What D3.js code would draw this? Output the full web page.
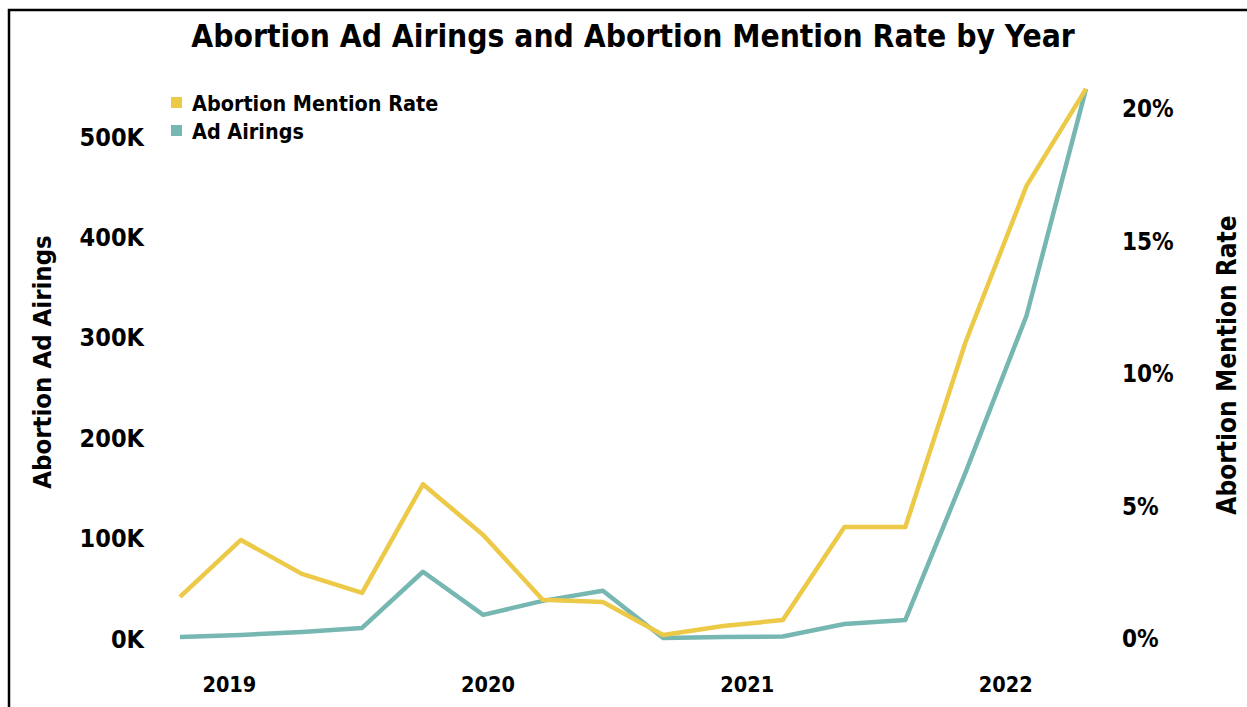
<!DOCTYPE html>
<html lang="en">
<head>
    <meta charset="UTF-8">
    <script src="https://d3js.org/d3.v7.min.js"></script>
    <title>Abortion Ad Airings</title>
    <style>
        body { margin: 0; background: #fff; }
        text { font-family: "DejaVu Sans Condensed", "DejaVu Sans", sans-serif; font-weight: bold; fill: #000; }
    </style>
</head>
<body>
<div id="chart"></div>
<script>
    // periods (one point each)
    const periods = ["2018-10-24", "2019-01-18", "2019-04-14", "2019-07-08",
                     "2019-10-02", "2019-12-26", "2020-03-19", "2020-06-12",
                     "2020-09-05", "2020-11-29", "2021-02-21", "2021-05-19",
                     "2021-08-13", "2021-11-06", "2022-01-31", "2022-04-25"]

    // abortion ad airings
    const airings = [1000, 3000, 6000, 10000, 66000, 23000, 37000, 47000,
                     0, 1000, 1500, 14000, 18000, 165000, 321000, 547000]

    // abortion mention rate (%)
    const mentionRate = [1.55, 3.70, 2.42, 1.70, 5.80, 3.89, 1.44, 1.36,
                         0.11, 0.45, 0.68, 4.19, 4.19, 11.17, 17.06, 20.72]

    const leftTicks = [0, 100000, 200000, 300000, 400000, 500000]
    const rightTicks = [0, 5, 10, 15, 20]

    const width = 1247
    const height = 707

    const svg = d3.select("#chart")
        .append("svg")
        .attr("width", width)
        .attr("height", height)

    // frame (only the top and left edges are in view)
    svg.append("path")
        .attr("d", `M9,${height} L9,10 L${width},10`)
        .attr("fill", "none")
        .attr("stroke", "#000")
        .attr("stroke-width", 2.5)

    const parse = d3.timeParse("%Y-%m-%d")
    const dates = periods.map(parse)

    const x = d3.scaleTime()
        .domain(d3.extent(dates))
        .range([180, 1086])

    const yLeft = d3.scaleLinear()
        .domain([0, 500000])
        .range([638, 136])

    const yRight = d3.scaleLinear()
        .domain([0, 20])
        .range([638, 108])

    // title
    svg.append("text")
        .attr("x", 633)
        .attr("y", 47)
        .attr("text-anchor", "middle")
        .style("font-size", "31.5px")
        .text("Abortion Ad Airings and Abortion Mention Rate by Year")

    // axes
    const xAxis = svg.append("g")
        .attr("transform", "translate(0,684)")
        .call(d3.axisBottom(x).ticks(d3.timeYear.every(1)).tickFormat(d3.timeFormat("%Y")).tickSize(0).tickPadding(0))
    xAxis.selectAll("text")
        .attr("dy", "0.35em")
        .style("font-size", "21.5px")

    const leftAxis = svg.append("g")
        .attr("transform", "translate(144,0)")
        .call(d3.axisLeft(yLeft).tickValues(leftTicks).tickFormat(d => d / 1000 + "K").tickSize(0).tickPadding(0))
    leftAxis.selectAll("text")
        .attr("dy", "0.36em")
        .style("font-size", "25px")

    const rightAxis = svg.append("g")
        .attr("transform", "translate(1122,0)")
        .call(d3.axisRight(yRight).tickValues(rightTicks).tickFormat(d => d + "%").tickSize(0).tickPadding(0))
    rightAxis.selectAll("text")
        .attr("dy", "0.36em")
        .style("font-size", "24px")

    svg.selectAll(".domain").remove()
    svg.selectAll("g").attr("font-family", null).attr("font-size", null)

    // axis titles
    svg.append("text")
        .attr("transform", "translate(51,362) rotate(-90)")
        .attr("text-anchor", "middle")
        .style("font-size", "25.5px")
        .text("Abortion Ad Airings")

    svg.append("text")
        .attr("transform", "translate(1236,365) rotate(-90)")
        .attr("text-anchor", "middle")
        .style("font-size", "26px")
        .text("Abortion Mention Rate")

    // lines
    const lineRate = d3.line()
        .x((d, i) => x(dates[i]))
        .y(d => yRight(d))

    const lineAirings = d3.line()
        .x((d, i) => x(dates[i]))
        .y(d => yLeft(d))

    svg.append("path")
        .datum(airings)
        .attr("d", lineAirings)
        .attr("fill", "none")
        .attr("stroke", "#76B7B2")
        .attr("stroke-width", 4.5)
        .attr("stroke-linejoin", "round")

    svg.append("path")
        .datum(mentionRate)
        .attr("d", lineRate)
        .attr("fill", "none")
        .attr("stroke", "#EDC948")
        .attr("stroke-width", 4.5)
        .attr("stroke-linejoin", "round")

    // legend
    const legend = [
        {name: "Abortion Mention Rate", color: "#EDC948"},
        {name: "Ad Airings", color: "#76B7B2"}
    ]
    const lg = svg.append("g")
        .selectAll("g")
        .data(legend)
        .join("g")
        .attr("transform", (d, i) => `translate(171,${97 + i * 28})`)
    lg.append("rect")
        .attr("width", 11)
        .attr("height", 11)
        .attr("fill", d => d.color)
    lg.append("text")
        .attr("x", 21)
        .attr("y", 6)
        .attr("dy", "0.36em")
        .style("font-size", "21.4px")
        .text(d => d.name)
</script>
</body>
</html>
